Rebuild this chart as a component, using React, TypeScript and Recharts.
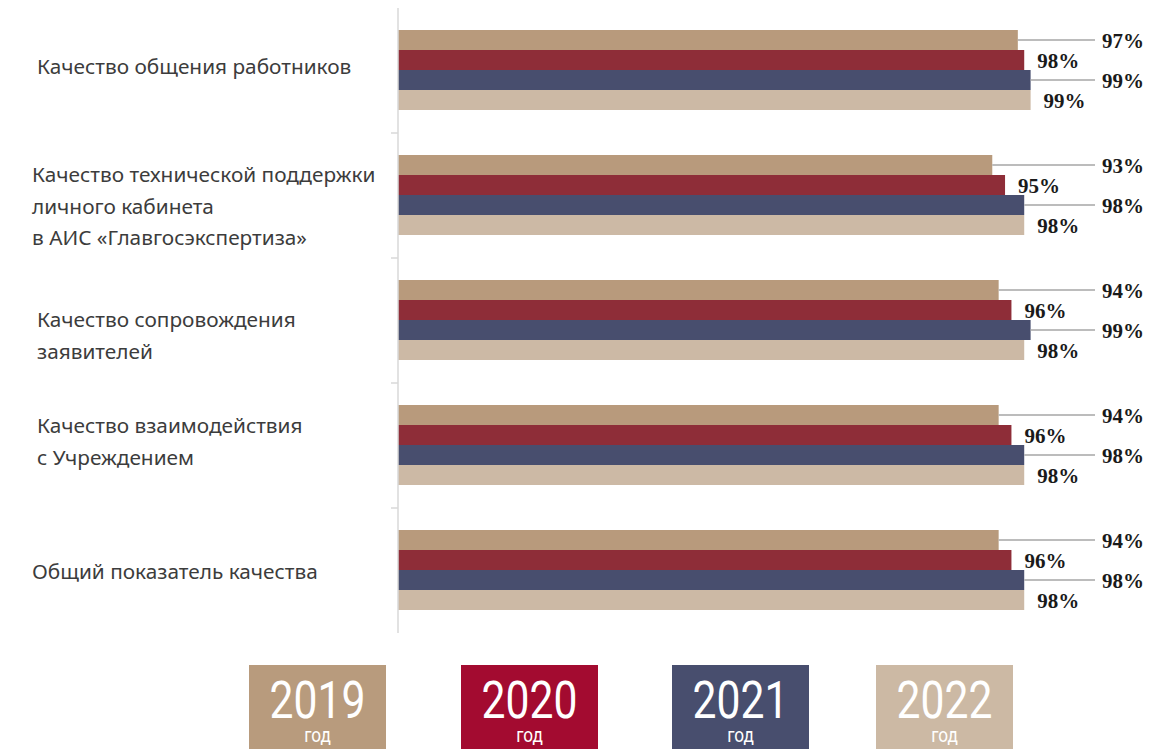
import React from "react";
import { BarChart, Bar, XAxis, YAxis, LabelList } from "recharts";

const categories = [
  "Качество общения работников",
  "Качество технической поддержки|личного кабинета|в АИС «Главгосэкспертиза»",
  "Качество сопровождения|заявителей",
  "Качество взаимодействия|с Учреждением",
  "Общий показатель качества",
];

const years = ["2019", "2020", "2021", "2022"];
const values2019 = [97, 93, 94, 94, 94];
const values2020 = [98, 95, 96, 96, 96];
const values2021 = [99, 98, 99, 98, 98];
const values2022 = [99, 98, 98, 98, 98];

const barColors = ["#B89A7C", "#8E2D38", "#484E6E", "#CCB9A5"];
const legendColors = ["#B89B7D", "#A30B30", "#484E6E", "#CCB9A4"];
// label offsets (x, first baseline vs band centre) to follow the original layout
const labelPos = [
  [37, 3.5],
  [32, -13.5],
  [37, 6.5],
  [37, -12.5],
  [32, 8.5],
];

const W = 1151;
const H = 749;
const BAND = 125;

const data = categories.map((name, i) => ({
  name,
  y2019: values2019[i],
  y2020: values2020[i],
  y2021: values2021[i],
  y2022: values2022[i],
}));

function CategoryTick(props: any) {
  const { y, payload, index } = props;
  const lines = String(payload.value).split("|");
  const [lx, dy] = labelPos[index] ?? [37, 0];
  return (
    <g>
      {index > 0 && (
        <line x1={391} x2={398} y1={y - BAND / 2} y2={y - BAND / 2} stroke="#d9d9d9" strokeWidth={1.5} />
      )}
      <text x={lx} y={y + dy} fill="#3c3c3c" fontSize={20.8} fontFamily="'Noto Sans', sans-serif">
        {lines.map((l, k) => (
          <tspan key={k} x={lx} dy={k === 0 ? 0 : 31.5}>
            {l}
          </tspan>
        ))}
      </text>
    </g>
  );
}

// leader = label pulled out to the right with a grey line
function makeLabel(leader: boolean) {
  return (props: any) => {
    const { x, y, width, height, value } = props;
    const end = x + width;
    const cy = y + height / 2;
    const font = {
      fontFamily: "'Liberation Serif', 'Times New Roman', serif",
      fontWeight: 700,
      fontSize: 21,
      fill: "#1a1a1a",
    };
    if (leader) {
      return (
        <g>
          <line x1={end} x2={1095} y1={cy} y2={cy} stroke="#a6a6a6" strokeWidth={1.5} />
          <text x={1102} y={cy + 1} dominantBaseline="central" {...font}>
            {value}%
          </text>
        </g>
      );
    }
    return (
      <text x={end + 13} y={cy + 1} dominantBaseline="central" {...font}>
        {value}%
      </text>
    );
  };
}

function YearLegend() {
  const lefts = [249, 461, 672, 876];
  return (
    <>
      {years.map((yr, i) => (
        <div
          key={yr}
          style={{
            position: "absolute",
            left: lefts[i],
            top: 665,
            width: 137,
            height: 84,
            background: legendColors[i],
            color: "#fff",
            fontFamily: "Roboto, sans-serif",
            textAlign: "center",
          }}
        >
          <div
            style={{
              position: "absolute",
              left: 0,
              right: 0,
              top: 14,
              fontSize: 52,
              lineHeight: "44px",
              transform: "scaleX(0.82)",
            }}
          >
            {yr}
          </div>
          <div
            style={{
              position: "absolute",
              left: 0,
              right: 0,
              top: 61,
              fontSize: 21,
              lineHeight: "18px",
              transform: "scaleX(0.82)",
            }}
          >
            год
          </div>
        </div>
      ))}
    </>
  );
}

export default function App() {
  const keys = ["y2019", "y2020", "y2021", "y2022"];
  return (
    <div style={{ position: "absolute", left: 0, top: 0, width: W, height: H, background: "#fff" }}>
      <BarChart
        width={W}
        height={H}
        data={data}
        layout="vertical"
        margin={{ top: 8, right: 114, bottom: 116, left: 0 }}
        barGap={0}
        barCategoryGap={22}
      >
        <XAxis type="number" domain={[0, 100]} hide />
        <YAxis
          type="category"
          dataKey="name"
          width={398}
          axisLine={{ stroke: "#d9d9d9", strokeWidth: 1.5 }}
          tickLine={false}
          interval={0}
          tick={<CategoryTick />}
        />
        {keys.map((k, i) => (
          <Bar key={k} dataKey={k} fill={barColors[i]} isAnimationActive={false}>
            <LabelList dataKey={k} content={makeLabel(i % 2 === 0)} />
          </Bar>
        ))}
      </BarChart>
      <YearLegend />
    </div>
  );
}
